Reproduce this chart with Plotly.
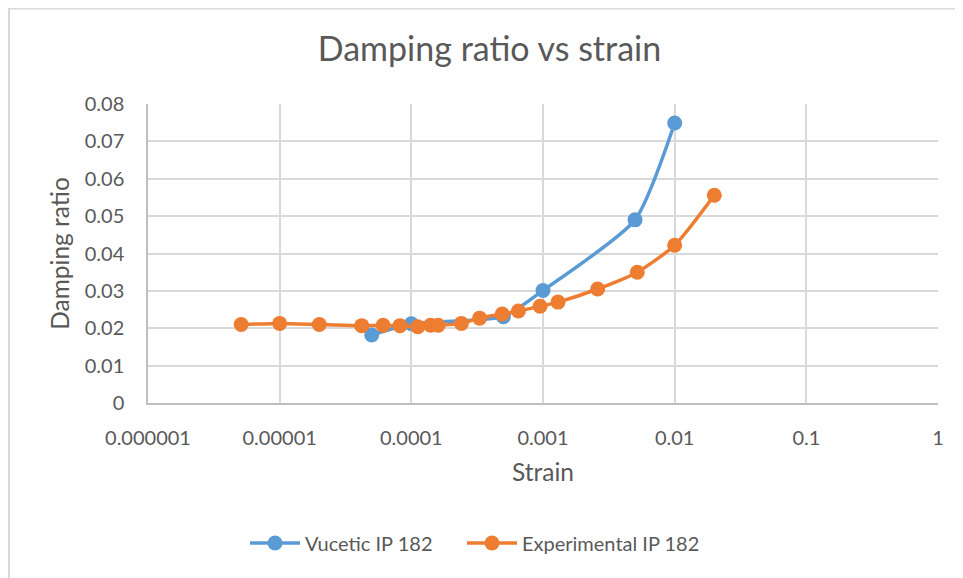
import plotly.graph_objects as go

vucetic_strain = [5e-5, 1e-4, 5e-4, 1e-3, 5e-3, 1e-2]
vucetic_damping = [0.0182, 0.0212, 0.0231, 0.0301, 0.0490, 0.0749]

exp_strain = [5.1e-6, 1.0e-5, 2.0e-5, 4.2e-5, 6.1e-5, 8.2e-5, 1.12e-4, 1.4e-4, 1.6e-4,
              2.4e-4, 3.3e-4, 4.9e-4, 6.5e-4, 9.5e-4, 1.3e-3, 2.6e-3, 5.2e-3, 1.0e-2, 2.0e-2]
exp_damping = [0.0210, 0.0213, 0.0210, 0.0207, 0.0208, 0.0207, 0.0204, 0.0208, 0.0208,
               0.0213, 0.0227, 0.0238, 0.0246, 0.0259, 0.0270, 0.0305, 0.0350, 0.0422, 0.0556]

x_tickvals = [1e-6, 1e-5, 1e-4, 1e-3, 1e-2, 1e-1, 1]
x_ticktext = ["0.000001", "0.00001", "0.0001", "0.001", "0.01", "0.1", "1"]
y_tickvals = [0, 0.01, 0.02, 0.03, 0.04, 0.05, 0.06, 0.07, 0.08]
y_ticktext = ["0", "0.01", "0.02", "0.03", "0.04", "0.05", "0.06", "0.07", "0.08"]

FONT = "Lato, 'Open Sans', sans-serif"
GREY = "#595959"

# figure-coordinate plot box (page has an 8px body offset)
L, R, T, B = 140, 930, 96, 395
W, H = 963, 578
PW, PH = R - L, B - T

fig = go.Figure()
fig.add_trace(go.Scatter(
    x=vucetic_strain, y=vucetic_damping, name="Vucetic IP 182", legend="legend",
    mode="lines+markers", line=dict(color="#5b9bd5", width=3.5, shape="spline", smoothing=0.6),
    marker=dict(size=15, color="#5b9bd5")))
fig.add_trace(go.Scatter(
    x=exp_strain, y=exp_damping, name="Experimental IP 182", legend="legend2",
    mode="lines+markers", line=dict(color="#ed7d31", width=3.5, shape="spline", smoothing=0.6),
    marker=dict(size=15, color="#ed7d31")))

leg_common = dict(orientation="h", xanchor="left", yanchor="middle",
                  y=(B - 535) / PH, font=dict(size=20, color=GREY),
                  itemwidth=50, bgcolor="rgba(0,0,0,0)")

fig.update_layout(
    width=W, height=H,
    margin=dict(l=L, r=W - R, t=T, b=H - B),
    paper_bgcolor="white", plot_bgcolor="white",
    font=dict(family=FONT, color=GREY, size=20),
    title=dict(text="Damping ratio vs strain", x=0.5, xanchor="center",
               y=1 - 41 / H, yanchor="middle",
               font=dict(size=34, color=GREY, family=FONT)),
    xaxis=dict(type="log", range=[-6, 0], tickvals=x_tickvals, ticktext=x_ticktext,
               showgrid=True, gridcolor="#d9d9d9", gridwidth=1.5,
               showline=True, linecolor="#bfbfbf", linewidth=1.5,
               ticks="", tickfont=dict(size=20, color=GREY), ticklabelstandoff=16,
               title=dict(text="Strain", font=dict(size=24.5, color=GREY), standoff=16),
               zeroline=False),
    yaxis=dict(range=[0, 0.08], tickvals=y_tickvals, ticktext=y_ticktext,
               showgrid=True, gridcolor="#d9d9d9", gridwidth=1.5,
               showline=True, linecolor="#bfbfbf", linewidth=1.5,
               ticks="", tickfont=dict(size=20, color=GREY), ticklabelstandoff=18,
               title=dict(text="Damping ratio", font=dict(size=24.5, color=GREY), standoff=8),
               zeroline=False),
    legend=dict(x=(237 - L) / PW, **leg_common),
    legend2=dict(x=(454 - L) / PW, **leg_common),
    showlegend=True,
)

fig.add_shape(type="rect", xref="paper", yref="paper",
              x0=(1 - L) / PW, x1=(975 - L) / PW,
              y0=(B - 600) / PH, y1=(B - 0.5) / PH,
              line=dict(color="#d9d9d9", width=2), fillcolor="rgba(0,0,0,0)", layer="below")

fig.write_html("out.html")
